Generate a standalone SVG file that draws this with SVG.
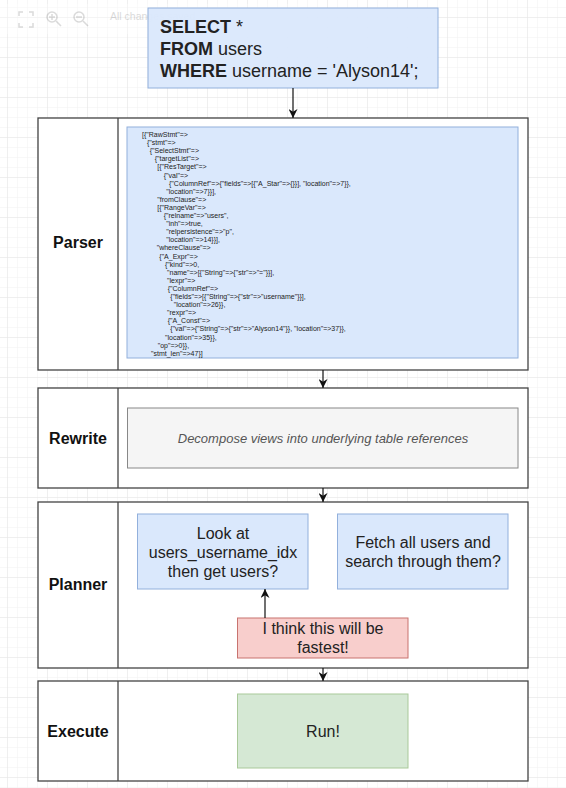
<svg xmlns="http://www.w3.org/2000/svg" width="566" height="788" viewBox="0 0 566 788">
<defs>
<pattern id="minor" width="10" height="10" patternUnits="userSpaceOnUse" x="7" y="7">
<path d="M10 0 L0 0 0 10" fill="none" stroke="#f1f1f1" stroke-width="1"/>
</pattern>
<pattern id="major" width="40" height="40" patternUnits="userSpaceOnUse" x="7" y="17">
<path d="M40 0 L0 0 0 40" fill="none" stroke="#e6e6e6" stroke-width="1"/>
</pattern>
<marker id="arr" viewBox="0 0 10 10" refX="10" refY="5" markerWidth="9" markerHeight="9" markerUnits="userSpaceOnUse" orient="auto">
<path d="M0 0 L10 5 L0 10 L3 5 Z" fill="#111"/>
</marker>
<style>
.lane{fill:#fff;stroke:#444;stroke-width:1.3}
.lbl{font-family:"Liberation Sans",Arial,sans-serif;font-weight:bold;font-size:16px;fill:#111;text-anchor:middle}
.blue{fill:#dae8fc;stroke:#92b0dc;stroke-width:1}
.red{fill:#f8cecc;stroke:#c8736f;stroke-width:1}
.green{fill:#d5e8d4;stroke:#a9c99a;stroke-width:1}
.gray{fill:#f5f5f5;stroke:#888;stroke-width:1}
.t16{font-family:"Liberation Sans",Arial,sans-serif;font-size:16px;fill:#222;text-anchor:middle}
.code{font-family:"Liberation Sans",Arial,sans-serif;font-size:7px;fill:#222}
.conn{stroke:#111;stroke-width:1.2;fill:none;marker-end:url(#arr)}
</style>
</defs>
<rect width="566" height="788" fill="#fff"/>
<rect width="566" height="788" fill="url(#minor)"/>
<rect width="566" height="788" fill="url(#major)"/>

<g id="toolbar" opacity="0.35">
<rect x="0" y="4" width="300" height="30" fill="#fff" stroke="none"/>
<path d="M19 16 v-4 h4 M29 12 h4 v4 M33 23 v4 h-4 M23 27 h-4 v-4" fill="none" stroke="#999" stroke-width="1.5"/>
<circle cx="52" cy="17" r="5" fill="none" stroke="#999" stroke-width="1.5"/>
<path d="M56 21 l5 5 M49 17 h6 M52 14 v6" stroke="#999" stroke-width="1.5"/>
<circle cx="79" cy="17" r="5" fill="none" stroke="#999" stroke-width="1.5"/>
<path d="M83 21 l5 5 M76 17 h6" stroke="#999" stroke-width="1.5"/>
<text x="110" y="19.5" font-family="Liberation Sans,Arial,sans-serif" font-size="10.5" fill="#999">All changes saved</text>
</g>

<g id="sql">
<rect x="148" y="8" width="290" height="80" class="blue" fill-opacity="0.95"/>
<text font-family="Liberation Sans,Arial,sans-serif" font-size="18" fill="#222">
<tspan x="160" y="33"><tspan font-weight="bold">SELECT</tspan> *</tspan>
<tspan x="160" y="55"><tspan font-weight="bold">FROM</tspan> users</tspan>
<tspan x="160" y="77"><tspan font-weight="bold">WHERE</tspan> username = 'Alyson14';</tspan>
</text>
</g>

<g id="parser">
<rect x="38" y="118" width="490" height="252" class="lane"/>
<line x1="118" y1="118" x2="118" y2="370" stroke="#444" stroke-width="1.3"/>
<text x="78" y="248" class="lbl">Parser</text>
<rect x="127" y="127" width="391" height="231" class="blue"/>
<text class="code">
<tspan x="142" y="137">[{"RawStmt"=&gt;</tspan>
<tspan x="147" y="145.1">{"stmt"=&gt;</tspan>
<tspan x="149.7" y="153.2">{"SelectStmt"=&gt;</tspan>
<tspan x="154.7" y="161.3">{"targetList"=&gt;</tspan>
<tspan x="157.3" y="169.4">[{"ResTarget"=&gt;</tspan>
<tspan x="163.7" y="177.5">{"val"=&gt;</tspan>
<tspan x="169" y="185.6">{"ColumnRef"=&gt;{"fields"=&gt;[{"A_Star"=&gt;{}}], "location"=&gt;7}},</tspan>
<tspan x="166.3" y="193.7">"location"=&gt;7}}],</tspan>
<tspan x="157.3" y="201.8">"fromClause"=&gt;</tspan>
<tspan x="157.3" y="209.9">[{"RangeVar"=&gt;</tspan>
<tspan x="163.7" y="218">{"relname"=&gt;"users",</tspan>
<tspan x="166.3" y="226.1">"inh"=&gt;true,</tspan>
<tspan x="166.3" y="234.2">"relpersistence"=&gt;"p",</tspan>
<tspan x="166.3" y="242.3">"location"=&gt;14}}],</tspan>
<tspan x="156.7" y="250.4">"whereClause"=&gt;</tspan>
<tspan x="159.3" y="258.5">{"A_Expr"=&gt;</tspan>
<tspan x="165" y="266.6">{"kind"=&gt;0,</tspan>
<tspan x="167" y="274.7">"name"=&gt;[{"String"=&gt;{"str"=&gt;"="}}],</tspan>
<tspan x="167" y="282.8">"lexpr"=&gt;</tspan>
<tspan x="167.7" y="290.9">{"ColumnRef"=&gt;</tspan>
<tspan x="170.3" y="299">{"fields"=&gt;[{"String"=&gt;{"str"=&gt;"username"}}],</tspan>
<tspan x="173.7" y="307.1">"location"=&gt;26}},</tspan>
<tspan x="167" y="315.2">"rexpr"=&gt;</tspan>
<tspan x="167.7" y="323.3">{"A_Const"=&gt;</tspan>
<tspan x="170.3" y="331.4">{"val"=&gt;{"String"=&gt;{"str"=&gt;"Alyson14"}}, "location"=&gt;37}},</tspan>
<tspan x="165" y="339.5">"location"=&gt;35}},</tspan>
<tspan x="157.7" y="347.6">"op"=&gt;0}},</tspan>
<tspan x="151" y="355.7">"stmt_len"=&gt;47}]</tspan>
</text>
</g>

<g id="rewrite">
<rect x="38" y="388" width="490" height="100" class="lane"/>
<line x1="118" y1="388" x2="118" y2="488" stroke="#444" stroke-width="1.3"/>
<text x="78" y="444" class="lbl">Rewrite</text>
<rect x="127.5" y="408" width="390.5" height="60" class="gray"/>
<text x="323" y="443" font-family="Liberation Sans,Arial,sans-serif" font-size="13" font-style="italic" fill="#555" text-anchor="middle">Decompose views into underlying table references</text>
</g>

<g id="planner">
<rect x="38" y="502" width="490" height="166" class="lane"/>
<line x1="118" y1="502" x2="118" y2="668" stroke="#444" stroke-width="1.3"/>
<text x="78" y="590" class="lbl">Planner</text>
</g>
<g id="plan-index">
<rect x="137.5" y="514" width="170.5" height="75" class="blue"/>
<text class="t16"><tspan x="223" y="539">Look at</tspan><tspan x="223" y="558">users_username_idx</tspan><tspan x="223" y="577">then get users?</tspan></text>
</g>
<g id="plan-scan">
<rect x="337.5" y="514" width="170.5" height="75" class="blue"/>
<text class="t16"><tspan x="423" y="548">Fetch all users and</tspan><tspan x="423" y="567">search through them?</tspan></text>
</g>
<g id="plan-choice">
<rect x="237.5" y="618" width="170.5" height="40" class="red"/>
<text class="t16"><tspan x="323" y="634">I think this will be</tspan><tspan x="323" y="653">fastest!</tspan></text>
</g>

<g id="execute">
<rect x="38" y="681" width="490" height="100" class="lane"/>
<line x1="118" y1="681" x2="118" y2="781" stroke="#444" stroke-width="1.3"/>
<text x="78" y="737" class="lbl">Execute</text>
</g>
<g id="run">
<rect x="237.5" y="694" width="170.5" height="74" class="green"/>
<text x="323" y="737" class="t16">Run!</text>
</g>

<g id="connectors">
<line x1="293" y1="88" x2="293" y2="118" class="conn"/>
<line x1="323" y1="370" x2="323" y2="388" class="conn"/>
<line x1="323" y1="488" x2="323" y2="502" class="conn"/>
<line x1="323" y1="668" x2="323" y2="681" class="conn"/>
<line x1="265" y1="618" x2="265" y2="589" class="conn"/>
</g>
</svg>
